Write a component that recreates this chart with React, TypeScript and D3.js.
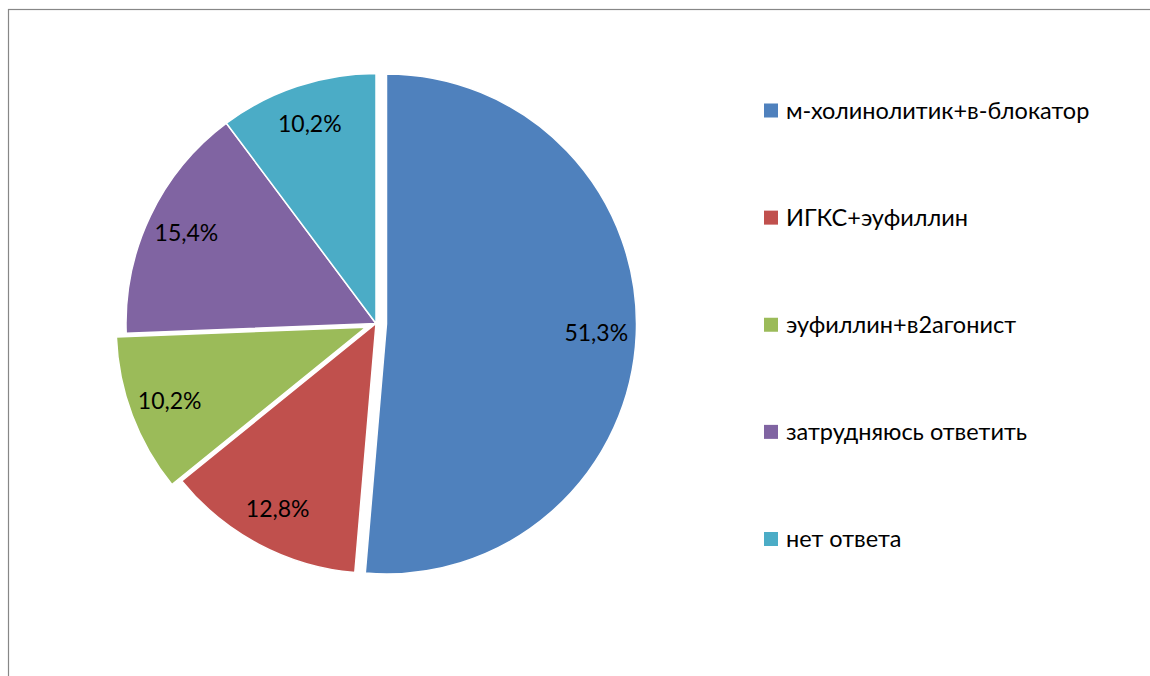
import React, { useEffect, useRef } from 'react'
import * as d3 from 'd3'

// categories and shares (percent)
const categories = [
  'м-холинолитик+в-блокатор',
  'ИГКС+эуфиллин',
  'эуфиллин+в2агонист',
  'затрудняюсь ответить',
  'нет ответа'
]
const values = [51.3, 12.8, 10.2, 15.4, 10.2]
const labels = ['51,3%', '12,8%', '10,2%', '15,4%', '10,2%']

const colors = ['#4F81BD', '#C0504D', '#9BBB59', '#8064A2', '#4BACC6']
const explode = [10.5, 0, 10.5, 0, 0]

const W = 1150
const H = 676
const FONT = 'Lato, "Open Sans", sans-serif'

const App: React.FC = () => {
  const ref = useRef<SVGSVGElement>(null)

  useEffect(() => {
    if (!ref.current) return
    const svg = d3.select(ref.current)
    svg.selectAll('*').remove()

    // frame (runs past the right/bottom edge)
    svg.append('rect')
      .attr('x', 8.5).attr('y', 9.5)
      .attr('width', W + 20).attr('height', H + 20)
      .attr('fill', '#fff')
      .attr('stroke', '#878787')
      .attr('stroke-width', 1.2)

    const cx = 376
    const cy = 323.5
    const r = 250

    const pie = d3.pie<number>().sort(null).value(d => d)
    const arcs = pie(values)
    const arc = d3.arc<d3.PieArcDatum<number>>().innerRadius(0).outerRadius(r)
    const labelArc = d3.arc<d3.PieArcDatum<number>>().innerRadius(210).outerRadius(210)

    const g = svg.append('g').attr('transform', `translate(${cx},${cy})`)

    arcs.forEach((a, i) => {
      const mid = (a.startAngle + a.endAngle) / 2
      const ox = Math.sin(mid) * explode[i]
      const oy = -Math.cos(mid) * explode[i]
      const sg = g.append('g').attr('transform', `translate(${ox},${oy})`)
      sg.append('path')
        .attr('d', arc(a) || '')
        .attr('fill', colors[i])
        .attr('stroke', '#fff')
        .attr('stroke-width', 1.5)
        .attr('stroke-linejoin', 'round')
      const [lx, ly] = labelArc.centroid(a)
      sg.append('text')
        .attr('x', lx)
        .attr('y', ly)
        .attr('dy', '0.35em')
        .attr('text-anchor', 'middle')
        .attr('font-family', FONT)
        .attr('font-size', 23)
        .attr('fill', '#000')
        .text(labels[i])
    })

    // legend
    const ly = d3.scalePoint<string>().domain(categories).range([110.5, 539])
    const leg = svg.append('g')
    categories.forEach((c, i) => {
      const y = ly(c) as number
      leg.append('rect')
        .attr('x', 764).attr('y', y - 7)
        .attr('width', 14).attr('height', 14)
        .attr('fill', colors[i])
      leg.append('text')
        .attr('x', 786)
        .attr('y', y)
        .attr('dy', '0.35em')
        .attr('font-family', FONT)
        .attr('font-size', 23.5)
        .attr('fill', '#000')
        .text(c)
    })
  }, [])

  return (
    <svg
      ref={ref}
      width={W}
      height={H}
      style={{ position: 'absolute', left: 0, top: 0, display: 'block', background: '#fff' }}
    />
  )
}

export default App
